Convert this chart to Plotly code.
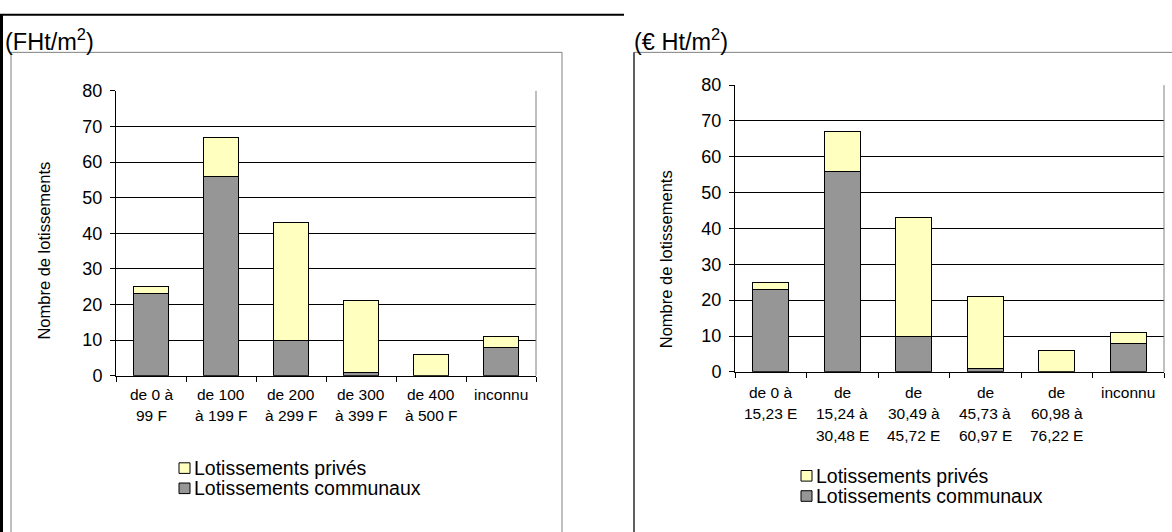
import plotly.graph_objects as go

# Prix des terrains : nombre de lotissements par tranche de prix
cats_franc = ["de 0 à<br>99 F", "de 100<br>à 199 F", "de 200<br>à 299 F",
              "de 300<br>à 399 F", "de 400<br>à 500 F", "inconnu"]
cats_euro = ["de 0 à<br>15,23 E", "de<br>15,24 à<br>30,48 E", "de<br>30,49 à<br>45,72 E",
             "de<br>45,73 à<br>60,97 E", "de<br>60,98 à<br>76,22 E", "inconnu"]
communaux = [23, 56, 10, 1, 0, 8]
prives = [2, 11, 33, 20, 6, 3]

series_names = ["Lotissements privés", "Lotissements communaux"]
y_ticks = [0, 10, 20, 30, 40, 50, 60, 70, 80]

W, H = 1172, 532
FONT = "Liberation Sans, Arial, sans-serif"
GRAY = "#969696"
YELLOW = "#FFFFC0"


def px(x):
    return x / W


def py(y):
    return 1 - y / H


fig = go.Figure()

for xa, ya, cats in (("x", "y", cats_franc), ("x2", "y2", cats_euro)):
    fig.add_trace(go.Bar(x=cats, y=communaux, name=series_names[1], xaxis=xa, yaxis=ya,
                         marker=dict(color=GRAY, line=dict(color="black", width=1)),
                         showlegend=False))
    fig.add_trace(go.Bar(x=cats, y=prives, name=series_names[0], xaxis=xa, yaxis=ya,
                         marker=dict(color=YELLOW, line=dict(color="black", width=1)),
                         showlegend=False))

common_x = dict(type="category", showline=True, linecolor="black", linewidth=1,
                ticks="outside", ticklen=5, tickcolor="black", tickson="boundaries",
                showticklabels=False, showgrid=False, fixedrange=True)
common_y = dict(range=[0, 80], tickvals=y_ticks, showline=True, linecolor="black",
                linewidth=1, ticks="outside", ticklen=5, tickcolor="black",
                tickfont=dict(family=FONT, size=18, color="black"), ticklabelstandoff=4,
                showgrid=True, gridcolor="black", gridwidth=1,
                zeroline=False, fixedrange=True)

fig.update_layout(
    width=W, height=H, margin=dict(l=0, r=0, t=0, b=0),
    paper_bgcolor="white", plot_bgcolor="white",
    barmode="stack", bargap=0.5,
    font=dict(family=FONT, color="black"),
    xaxis=dict(domain=[px(116), px(536)], anchor="y", **common_x),
    yaxis=dict(domain=[py(380), py(84)], anchor="x", **common_y),
    xaxis2=dict(domain=[px(735), px(1164)], anchor="y2", **common_x),
    yaxis2=dict(domain=[py(376), py(78)], anchor="x2", **common_y),
)

shapes = []
# cadres des zones de graphique
shapes.append(dict(type="rect", xref="paper", yref="paper", x0=px(11), x1=px(562),
                   y0=py(545), y1=py(44), line=dict(color="#808080", width=1)))
shapes.append(dict(type="rect", xref="paper", yref="paper", x0=px(634), x1=px(1185),
                   y0=py(545), y1=py(44), line=dict(color="#808080", width=1)))
shapes.append(dict(type="line", xref="paper", yref="paper", x0=px(634), x1=px(634),
                   y0=py(545), y1=py(44), line=dict(color="black", width=1)))
# bord droit des zones de tracé
shapes.append(dict(type="line", xref="x domain", yref="y domain", x0=1, x1=1, y0=0, y1=1,
                   line=dict(color="#808080", width=1)))
shapes.append(dict(type="line", xref="x2 domain", yref="y2 domain", x0=1, x1=1, y0=0, y1=1,
                   line=dict(color="#808080", width=1)))
# filet du tableau
shapes.append(dict(type="line", xref="paper", yref="paper", x0=0, x1=px(624),
                   y0=py(5), y1=py(5), line=dict(color="black", width=2)))
shapes.append(dict(type="line", xref="paper", yref="paper", x0=px(1.5), x1=px(1.5),
                   y0=py(545), y1=py(5), line=dict(color="black", width=3)))

annotations = []
annotations.append(dict(text="(FHt/m<sup>2</sup>)", xref="paper", yref="paper",
                        x=px(3), y=py(31), xanchor="left", yanchor="middle",
                        showarrow=False, font=dict(family=FONT, size=23.5)))
annotations.append(dict(text="(€ Ht/m<sup>2</sup>)", xref="paper", yref="paper",
                        x=px(632), y=py(31), xanchor="left", yanchor="middle",
                        showarrow=False, font=dict(family=FONT, size=23.5)))
for cx, cy in ((44, 250), (666, 259)):
    annotations.append(dict(text="Nombre de lotissements", xref="paper", yref="paper",
                            x=px(cx), y=py(cy), textangle=-90, showarrow=False,
                            xanchor="center", yanchor="middle",
                            font=dict(family=FONT, size=16.5)))

# libellés des catégories, une ligne par annotation
for xa, cats, row0 in (("x", cats_franc, 399), ("x2", cats_euro, 397)):
    for cat in cats:
        for k, line in enumerate(cat.split("<br>")):
            annotations.append(dict(text=line, xref=xa, yref="paper", x=cat,
                                    y=py(row0 + 22.5 * k), xanchor="center",
                                    yanchor="middle", showarrow=False,
                                    font=dict(family=FONT, size=15.5)))

# légendes
colors = [YELLOW, GRAY]
for lx, ly0 in ((179, 476), (801, 484)):
    for i, (name, col) in enumerate(zip(series_names, colors)):
        cy = ly0 + i * 21
        shapes.append(dict(type="rect", xref="paper", yref="paper",
                           x0=px(lx), x1=px(lx + 11), y0=py(cy + 5.5), y1=py(cy - 5.5),
                           fillcolor=col, line=dict(color="black", width=1)))
        annotations.append(dict(text=name, xref="paper", yref="paper",
                                x=px(lx + 13), y=py(cy), xanchor="left", yanchor="middle",
                                showarrow=False, font=dict(family=FONT, size=19.5)))

fig.update_layout(shapes=shapes, annotations=annotations)
fig.write_html("out.html")
